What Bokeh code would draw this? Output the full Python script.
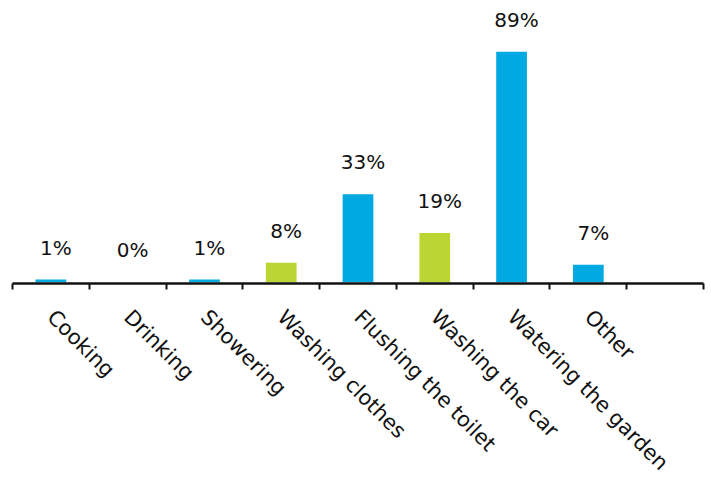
import math
from bokeh.plotting import figure
from bokeh.core.properties import value
from bokeh.models import ColumnDataSource, FixedTicker, LabelSet, Range1d
from bokeh.embed import file_html
from bokeh.resources import INLINE

categories = ["Cooking", "Drinking", "Showering", "Washing clothes",
              "Flushing the toilet", "Washing the car", "Watering the garden", "Other"]
values = [1, 0, 1, 7.5, 34, 19, 89, 6.7]
value_labels = ["1%", "0%", "1%", "8%", "33%", "19%", "89%", "7%"]
groups = ["blue", "blue", "blue", "green", "blue", "green", "blue", "blue"]
n_slots = 9  # one empty slot at the end

palette = {"blue": "#00A9E2", "green": "#BBD532"}

xs = [i + 0.5 for i in range(len(categories))]
src = ColumnDataSource(dict(
    x=xs, top=values, lab=value_labels,
    color=[palette[g] for g in groups],
))

FONT = "DejaVu Sans"

p = figure(frame_width=691, frame_height=275,
           x_range=Range1d(0, n_slots), y_range=Range1d(-0.5, 105.7),
           output_backend="svg", toolbar_location=None,
           y_axis_location=None,
           min_border_left=12, min_border_right=4, min_border_top=8, min_border_bottom=0)
p.outline_line_color = None
p.xgrid.grid_line_color = None
p.ygrid.grid_line_color = None

p.vbar(x="x", top="top", bottom=0, width=0.4, color="color", line_color=None, source=src)

labels = LabelSet(x="x", y="top", text="lab", source=src,
                  text_align="center", text_baseline="alphabetic",
                  x_offset=5, y_offset=25,
                  text_font=value(FONT), text_font_size="20px", text_color="#111111")
p.add_layout(labels)

ax = p.xaxis[0]
ax.ticker = FixedTicker(ticks=xs, minor_ticks=list(range(n_slots + 1)))
ax.major_label_overrides = {x: c for x, c in zip(xs, categories)}
ax.major_tick_line_color = None
ax.minor_tick_line_color = "#111111"
ax.minor_tick_line_width = 2
ax.minor_tick_in = 0
ax.minor_tick_out = 6
ax.axis_line_color = "#111111"
ax.axis_line_width = 2.5
ax.major_label_orientation = -math.pi / 4
ax.major_label_text_font = FONT
ax.major_label_text_font_size = "21px"
ax.major_label_text_color = "#111111"
ax.major_label_standoff = 24

open("out.html", "w").write(file_html(p, INLINE))
